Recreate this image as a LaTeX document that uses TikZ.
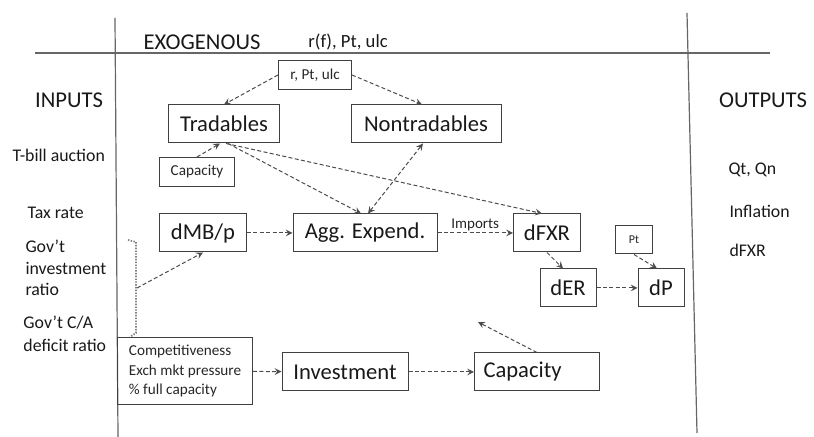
\documentclass[tikz,border=0pt]{standalone}
\usepackage{fontspec}
\setmainfont{Carlito}
\usetikzlibrary{positioning,arrows}

\begin{document}
\begin{tikzpicture}[x=0.5pt, y=-0.5pt,
    ->,
    >=stealth,
    line width=0.5pt,
    bb/.style={%
      rectangle, draw=black!75, text=black!90, font=\fontsize{11.3}{13}\selectfont,
      minimum height=19pt, inner sep=2pt, align=center
    },
    sb/.style={%
      rectangle, draw=black!75, text=black!85, font=\fontsize{7.6}{9.7}\selectfont,
      minimum height=14.5pt, inner sep=2pt, align=center
    },
    lab/.style={%
      text=black!90, font=\fontsize{8.9}{10.8}\selectfont,
      anchor=west, align=left, inner sep=0pt
    },
    hd/.style={text=black!90, font=\fontsize{11.3}{13}\selectfont, inner sep=0pt},
    flow/.style={draw=black!70, dash pattern=on 2pt off 1.2pt},
    frame/.style={-, draw=black!60, line width=0.6pt}
]
    \useasboundingbox (0,0) rectangle (814,437);

    % frame
    \draw[frame] (115,18) -- (118,437);
    \draw[frame] (687,13) -- (697,433);
    \draw[frame] (35,53) -- (770,53);

    % headings and side labels
    \node[hd] (exo) at (202,42) {EXOGENOUS};
    \node[hd, font=\fontsize{9.3}{11}\selectfont] (exov) at (348,42) {r(f), Pt, ulc};
    \node[hd] (inp) at (69,100) {INPUTS};
    \node[hd] (outp) at (763,100) {OUTPUTS};
    \node[lab] (tbill) at (12,155) {T-bill auction};
    \node[lab] (tax) at (27,213) {Tax rate};
    \node[lab] (govinv) at (25,268) {Gov't\\investment\\ratio};
    \node[lab, font=\fontsize{8.9}{11.5}\selectfont] (govca) at (23,334) {Gov't C/A\\deficit ratio};
    \node[lab] (qtqn) at (728,170) {Qt, Qn};
    \node[lab] (infl) at (729,211) {Inflation};
    \node[lab] (ofxr) at (729,250) {dFXR};

    % boxes
    \node[sb, minimum width=36.5pt] (rpu) at (315,75) {r, Pt, ulc};
    \node[bb, minimum width=55.5pt] (trad) at (224,124) {Tradables};
    \node[bb, minimum width=75pt] (nontr) at (426,124) {Nontradables};
    \node[sb, minimum width=37.5pt] (capsm) at (197,172) {Capacity};
    \node[bb, minimum width=43.5pt] (dmb) at (203,233) {dMB/p};
    \node[bb, minimum width=72pt] (agg) at (365,233) {Agg. Expend.};
    \node[bb, minimum width=33.5pt] (dfxr) at (547,233) {dFXR};
    \node[sb, minimum width=18.5pt, minimum height=14pt,
          font=\fontsize{6}{7}\selectfont] (pt) at (634,240) {Pt};
    \node[bb, minimum width=28pt] (der) at (568,288) {dER};
    \node[bb, minimum width=23pt] (dp) at (661,288) {dP};
    \node[sb, minimum width=67.5pt, minimum height=33.5pt, align=left] (comp)
          at (185,371) {Competitiveness\\Exch mkt pressure\\\% full capacity};
    \node[bb, minimum width=63pt] (inv) at (345,372) {Investment};
    \node[bb, text width=53.5pt, inner xsep=4.5pt, align=left] (capbig)
          at (537,372) {Capacity};

    % bracket of policy inputs
    \draw[frame, draw=black!50, line width=0.9pt, dash pattern=on 0.7pt off 0.7pt]
          (128,240) -- (136,242) -- (136,333) -- (130,337);
    \coordinate (brmid) at (137,288);
    \coordinate (fb) at (478,322);

    \path (rpu.west) edge[flow] (trad.north)
          (rpu.east) edge[flow] ([xshift=-2pt]nontr.north)
          (capsm.north) edge[flow] ([xshift=-2pt]trad.south)
          ([xshift=2pt]trad.south) edge[flow] ([xshift=-2pt]agg.north)
          ([xshift=1pt]trad.south) edge[flow] ([xshift=-2.5pt]dfxr.north)
          ([xshift=-1.5pt]nontr.south) edge[flow, <->] ([xshift=1.5pt]agg.north)
          (brmid) edge[flow] (dmb.south)
          (dmb) edge[flow] (agg)
          (agg) edge[flow] node[above, inner sep=1pt, text=black!85,
                               font=\fontsize{7.5}{9}\selectfont] {Imports} (dfxr)
          (dfxr.south) edge[flow] ([xshift=-2.5pt]der.north)
          (pt.south) edge[flow] ([xshift=-2pt]dp.north)
          (der) edge[flow] (dp)
          (comp) edge[flow] (inv)
          (inv) edge[flow] (capbig)
          (capbig.north) edge[flow] (fb)
    ;

\end{tikzpicture}
\end{document}
